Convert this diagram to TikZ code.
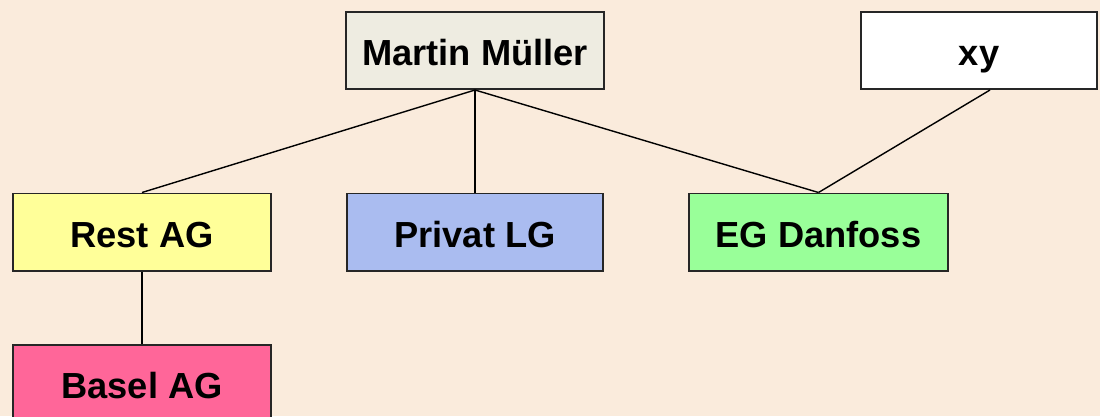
\documentclass[tikz,border=0pt]{standalone}
\usepackage{fontspec}
\setmainfont{Liberation Sans}
\definecolor{bgcol}{HTML}{FAEBDC}
\definecolor{headcol}{HTML}{EEECE1}
\definecolor{restcol}{HTML}{FFFF99}
\definecolor{privcol}{HTML}{AABCF0}
\definecolor{egcol}{HTML}{99FF99}
\definecolor{baselcol}{HTML}{FF6699}
\tikzset{
  orgbox/.style={draw=black!85, line width=1.4pt, minimum width=6.45cm,
    minimum height=1.925cm, inner sep=0pt, text height=22pt, text depth=0pt,
    font=\fontsize{25.8}{30}\selectfont\bfseries},
  link/.style={line width=1pt}
}
\begin{document}
\begin{tikzpicture}[x=0.025cm,y=-0.025cm]
  % Background
  \fill[bgcol] (0,0) rectangle (1100,416);
  \useasboundingbox (0,0) rectangle (1100,416);
  % Top row
  \node[orgbox, fill=headcol] (mueller) at (475,50.5) {Martin Müller};
  \node[orgbox, fill=white, minimum width=5.9cm] (xy) at (979,50.5) {xy};
  % Middle row
  \node[orgbox, fill=restcol]  (rest)   at (142,232)   {Rest AG};
  \node[orgbox, fill=privcol, minimum width=6.4cm] (privat) at (475,232) {Privat LG};
  \node[orgbox, fill=egcol]    (eg)     at (818.5,232) {EG Danfoss};
  % Bottom row
  \node[orgbox, fill=baselcol] (basel)  at (142,383.5) {Basel AG};
  % Draw links
  \draw[link] (mueller.south) -- (rest.north);
  \draw[link] (mueller.south) -- (privat.north);
  \draw[link] (mueller.south) -- (eg.north);
  \draw[link] ([xshift=0.275cm]xy.south) -- (eg.north);
  \draw[link] (rest.south) -- (basel.north);
\end{tikzpicture}
\end{document}
